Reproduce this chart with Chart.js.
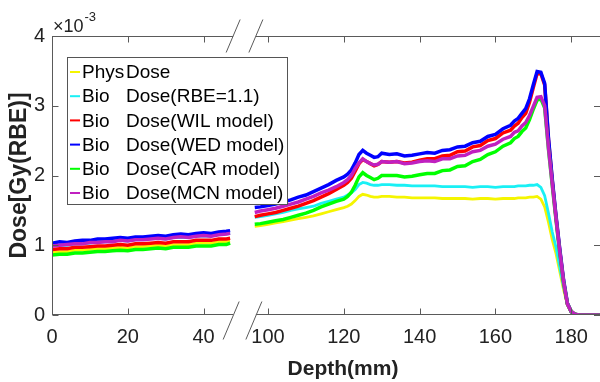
<!DOCTYPE html>
<html>
<head>
<meta charset="utf-8">
<script src="https://cdn.jsdelivr.net/npm/chart.js@4.4.0/dist/chart.umd.min.js"></script>
<style>
  html, body { margin: 0; padding: 0; background: #fff; }
</style>
</head>
<body>
<canvas id="doseChart" width="600" height="382"></canvas>
<script>
// depth in mm, dose in units of 1e-3 Gy(RBE)
const depthNear = [0, 2, 4, 6, 8, 10, 12, 14, 16, 18, 20, 22, 24, 26, 28, 30, 32, 34, 36, 38, 40, 42, 44, 46, 47];
const depthFar = [96.5, 98, 100, 102, 104, 106, 108, 110, 112, 114, 116, 118, 120, 121, 122, 123, 124, 125, 126, 127,
  128, 129, 130, 132, 134, 136, 138, 140, 142, 144, 146, 148, 150, 152, 154, 156, 158, 160, 162, 164,
  165, 166, 167, 168, 169, 170, 171, 172, 173, 174, 175, 176, 177, 178, 179, 180, 181, 182, 184, 187.5];

const physNear = [0.90, 0.91, 0.91, 0.93, 0.93, 0.94, 0.95, 0.95, 0.96, 0.97, 0.96, 0.98, 0.98, 0.99, 1.00, 0.99, 1.01, 1.01, 1.01, 1.03, 1.03, 1.03, 1.05, 1.05, 1.06];
const physFar = [1.27, 1.28, 1.30, 1.32, 1.34, 1.36, 1.38, 1.40, 1.42, 1.45, 1.48, 1.51, 1.54, 1.56, 1.59, 1.64, 1.70, 1.73, 1.72, 1.70,
  1.69, 1.69, 1.70, 1.70, 1.69, 1.69, 1.68, 1.68, 1.68, 1.68, 1.67, 1.67, 1.67, 1.67, 1.66, 1.67, 1.67, 1.66, 1.67, 1.67,
  1.67, 1.68, 1.68, 1.68, 1.69, 1.69, 1.70, 1.66, 1.55, 1.33, 1.08, 0.88, 0.62, 0.36, 0.15, 0.04, 0.01, 0, 0, 0];

const rbeNear = [0.99, 1.00, 1.00, 1.02, 1.02, 1.03, 1.05, 1.05, 1.06, 1.07, 1.06, 1.08, 1.08, 1.09, 1.10, 1.09, 1.11, 1.11, 1.11, 1.13, 1.13, 1.13, 1.16, 1.16, 1.17];
const rbeFar = [1.40, 1.41, 1.43, 1.45, 1.47, 1.50, 1.52, 1.54, 1.56, 1.60, 1.63, 1.66, 1.69, 1.72, 1.75, 1.80, 1.87, 1.90, 1.89, 1.87,
  1.86, 1.86, 1.87, 1.87, 1.86, 1.86, 1.85, 1.85, 1.85, 1.85, 1.84, 1.84, 1.84, 1.84, 1.83, 1.84, 1.84, 1.83, 1.84, 1.84,
  1.84, 1.85, 1.85, 1.85, 1.86, 1.86, 1.87, 1.83, 1.71, 1.46, 1.19, 0.97, 0.68, 0.40, 0.17, 0.04, 0.01, 0, 0, 0];

const wilNear = [0.94, 0.95, 0.95, 0.97, 0.97, 0.98, 0.99, 0.99, 1.00, 1.01, 1.00, 1.02, 1.02, 1.03, 1.04, 1.03, 1.05, 1.05, 1.05, 1.07, 1.07, 1.07, 1.09, 1.09, 1.10];
const wilFar = [1.41, 1.43, 1.45, 1.47, 1.50, 1.53, 1.56, 1.60, 1.64, 1.69, 1.74, 1.80, 1.86, 1.90, 1.96, 2.06, 2.17, 2.23, 2.20, 2.17,
  2.14, 2.16, 2.20, 2.19, 2.20, 2.18, 2.19, 2.22, 2.24, 2.24, 2.28, 2.29, 2.34, 2.35, 2.41, 2.43, 2.50, 2.53, 2.61, 2.65,
  2.71, 2.75, 2.83, 2.89, 3.05, 3.26, 3.46, 3.46, 3.30, 2.52, 1.93, 1.40, 0.92, 0.48, 0.16, 0.05, 0.01, 0, 0, 0];

const wedNear = [1.03, 1.05, 1.04, 1.06, 1.07, 1.07, 1.09, 1.09, 1.10, 1.11, 1.10, 1.12, 1.12, 1.13, 1.14, 1.13, 1.15, 1.16, 1.15, 1.17, 1.18, 1.17, 1.19, 1.20, 1.21];
const wedFar = [1.54, 1.55, 1.57, 1.59, 1.62, 1.65, 1.69, 1.72, 1.77, 1.82, 1.87, 1.93, 1.98, 2.02, 2.08, 2.18, 2.30, 2.36, 2.32, 2.29,
  2.26, 2.27, 2.32, 2.30, 2.31, 2.28, 2.29, 2.31, 2.33, 2.32, 2.36, 2.37, 2.41, 2.42, 2.47, 2.49, 2.56, 2.59, 2.67, 2.72,
  2.78, 2.82, 2.89, 2.96, 3.10, 3.30, 3.49, 3.48, 3.32, 2.54, 1.95, 1.42, 0.94, 0.50, 0.17, 0.05, 0.01, 0, 0, 0];

const carNear = [0.86, 0.87, 0.87, 0.89, 0.89, 0.90, 0.91, 0.91, 0.92, 0.93, 0.92, 0.94, 0.94, 0.95, 0.96, 0.95, 0.97, 0.97, 0.97, 0.99, 0.99, 0.99, 1.01, 1.01, 1.03];
const carFar = [1.30, 1.31, 1.33, 1.35, 1.37, 1.40, 1.43, 1.46, 1.50, 1.55, 1.59, 1.63, 1.66, 1.70, 1.76, 1.86, 1.98, 2.04, 2.00, 1.97,
  1.94, 1.96, 2.00, 2.00, 2.00, 1.98, 1.99, 2.01, 2.03, 2.03, 2.07, 2.08, 2.13, 2.14, 2.20, 2.23, 2.30, 2.34, 2.42, 2.47,
  2.53, 2.56, 2.63, 2.68, 2.80, 2.95, 3.08, 3.10, 2.97, 2.38, 1.86, 1.36, 0.88, 0.46, 0.16, 0.05, 0.01, 0, 0, 0];

const mcnNear = [0.99, 1.00, 1.01, 1.02, 1.02, 1.04, 1.04, 1.05, 1.05, 1.07, 1.06, 1.08, 1.08, 1.09, 1.10, 1.09, 1.11, 1.12, 1.11, 1.13, 1.14, 1.13, 1.15, 1.16, 1.17];
const mcnFar = [1.47, 1.49, 1.51, 1.53, 1.56, 1.59, 1.62, 1.66, 1.70, 1.75, 1.79, 1.84, 1.90, 1.94, 2.00, 2.10, 2.18, 2.24, 2.20, 2.17,
  2.15, 2.16, 2.20, 2.19, 2.20, 2.17, 2.18, 2.20, 2.21, 2.20, 2.24, 2.24, 2.28, 2.29, 2.34, 2.36, 2.42, 2.45, 2.52, 2.56,
  2.62, 2.64, 2.71, 2.76, 2.86, 2.99, 3.12, 3.13, 3.00, 2.40, 1.88, 1.38, 0.90, 0.47, 0.16, 0.05, 0.01, 0, 0, 0];

const legendHead = ['Phys', 'Bio', 'Bio', 'Bio', 'Bio', 'Bio'];
const legendTail = ['Dose', 'Dose(RBE=1.1)', 'Dose(WIL model)', 'Dose(WED model)', 'Dose(CAR model)', 'Dose(MCN model)'];
const xTickDepths = [0, 20, 40, 100, 120, 140, 160, 180];

const colors = ['#f5f500', '#19f0f5', '#ff0000', '#0000ff', '#00ff00', '#c020c0'];
const widths = [2.8, 2.8, 3.5, 3.5, 3.5, 3.5];
const AXIS = '#5a5a5a';
const TEXT = '#222';
const FONT = '"Liberation Sans", Arial, sans-serif';

// the axis skips 48..95 mm: far points are shifted left by SHIFT
const SHIFT = 43;
const GAP = [47.8, 53.8];
const toAxis = d => d > 60 ? d - SHIFT : d;
const toDepth = v => v > 50 ? v + SHIFT : v;

function buildPoints(near, far) {
    const pts = depthNear.map((d, i) => ({ x: d, y: near[i] }));
    pts.push({ x: 50, y: null });
    depthFar.forEach((d, i) => pts.push({ x: toAxis(d), y: far[i] }));
    return pts;
}

const series = [
    [physNear, physFar], [rbeNear, rbeFar], [wilNear, wilFar],
    [wedNear, wedFar], [carNear, carFar], [mcnNear, mcnFar]
];

const brokenAxis = {
    id: 'brokenAxis',
    afterDraw(chart) {
        const { ctx, chartArea: a, scales: { x, y } } = chart;
        const g0 = x.getPixelForValue(GAP[0]);
        const g1 = x.getPixelForValue(GAP[1]);
        const top = a.top + 0.5, bot = a.bottom - 0.5, left = a.left + 0.5;
        ctx.save();
        ctx.strokeStyle = AXIS;
        ctx.lineWidth = 1;
        ctx.beginPath();
        ctx.moveTo(left, a.top); ctx.lineTo(left, a.bottom);
        [top, bot].forEach(yy => {
            ctx.moveTo(a.left, yy); ctx.lineTo(g0, yy);
            ctx.moveTo(g1, yy); ctx.lineTo(a.right, yy);
        });
        // inward ticks on all four sides
        x.ticks.forEach(t => {
            const px = Math.round(x.getPixelForValue(t.value)) + 0.5;
            ctx.moveTo(px, bot); ctx.lineTo(px, bot - 6);
            ctx.moveTo(px, top); ctx.lineTo(px, top + 6);
        });
        y.ticks.forEach(t => {
            const py = Math.round(y.getPixelForValue(t.value)) + 0.5;
            ctx.moveTo(left, py); ctx.lineTo(left + 6, py);
            ctx.moveTo(a.right, py); ctx.lineTo(a.right - 6, py);
        });
        // break marks
        [g0, g1].forEach(gx => {
            ctx.moveTo(gx - 7, top + 16); ctx.lineTo(gx + 7, top - 17);
            ctx.moveTo(gx - 10, bot + 25); ctx.lineTo(gx + 6, bot - 13);
        });
        ctx.stroke();

        // exponent label
        ctx.fillStyle = TEXT;
        ctx.textBaseline = 'alphabetic';
        ctx.textAlign = 'left';
        ctx.font = '18px ' + FONT;
        ctx.fillText('\u00d710', 53, 32);
        const w = ctx.measureText('\u00d710').width;
        ctx.font = '13px ' + FONT;
        ctx.fillText('-3', 53 + w + 1, 21);

        // x title
        ctx.font = 'bold 21px ' + FONT;
        ctx.textAlign = 'center';
        ctx.fillText('Depth(mm)', 343, 375);

        // legend
        const lx = 67.5, ly = 57.5, lw = 220, lh = 147;
        ctx.fillStyle = '#fff';
        ctx.fillRect(lx, ly, lw, lh);
        ctx.strokeStyle = '#555';
        ctx.strokeRect(lx, ly, lw, lh);
        ctx.font = '19px ' + FONT;
        ctx.textAlign = 'left';
        ctx.textBaseline = 'middle';
        legendHead.forEach((head, i) => {
            const ry = 72 + i * 24.2;
            ctx.strokeStyle = colors[i];
            ctx.lineWidth = 2;
            ctx.beginPath();
            ctx.moveTo(70, ry); ctx.lineTo(80, ry);
            ctx.stroke();
            ctx.fillStyle = '#000';
            ctx.fillText(head, 82, ry + 1);
            ctx.fillText(legendTail[i], 126, ry + 1);
        });
        ctx.restore();
    }
};

new Chart(document.getElementById('doseChart'), {
    type: 'line',
    data: {
        datasets: series.map((s, i) => ({
            label: legendHead[i] + ' ' + legendTail[i],
            data: buildPoints(s[0], s[1]),
            borderColor: colors[i],
            borderWidth: widths[i],
            pointRadius: 0,
            tension: 0,
            spanGaps: false,
            order: series.length - i
        }))
    },
    options: {
        responsive: false,
        animation: false,
        devicePixelRatio: 1,
        layout: { padding: { top: 36, right: 0, left: 0, bottom: 0 } },
        plugins: { legend: { display: false }, tooltip: { enabled: false } },
        scales: {
            x: {
                type: 'linear',
                min: 0,
                max: 144.6,
                grid: { display: false, drawTicks: false },
                border: { display: false },
                afterBuildTicks: s => { s.ticks = xTickDepths.map(d => ({ value: toAxis(d) })); },
                afterFit: s => { s.height = 67; },
                ticks: {
                    padding: 10,
                    maxRotation: 0,
                    autoSkip: false,
                    color: TEXT,
                    font: { family: FONT, size: 20 },
                    callback: v => String(Math.round(toDepth(v)))
                }
            },
            y: {
                min: 0,
                max: 4,
                grid: { display: false, drawTicks: false },
                border: { display: false },
                afterFit: s => { s.width = 52; },
                ticks: {
                    stepSize: 1,
                    padding: 7,
                    color: TEXT,
                    font: { family: FONT, size: 20 }
                },
                title: {
                    display: true,
                    text: 'Dose[Gy(RBE)]',
                    color: TEXT,
                    font: { family: FONT, size: 23, weight: 'bold' },
                    padding: { top: 6, bottom: 0 }
                }
            }
        }
    },
    plugins: [brokenAxis]
});
</script>
</body>
</html>
